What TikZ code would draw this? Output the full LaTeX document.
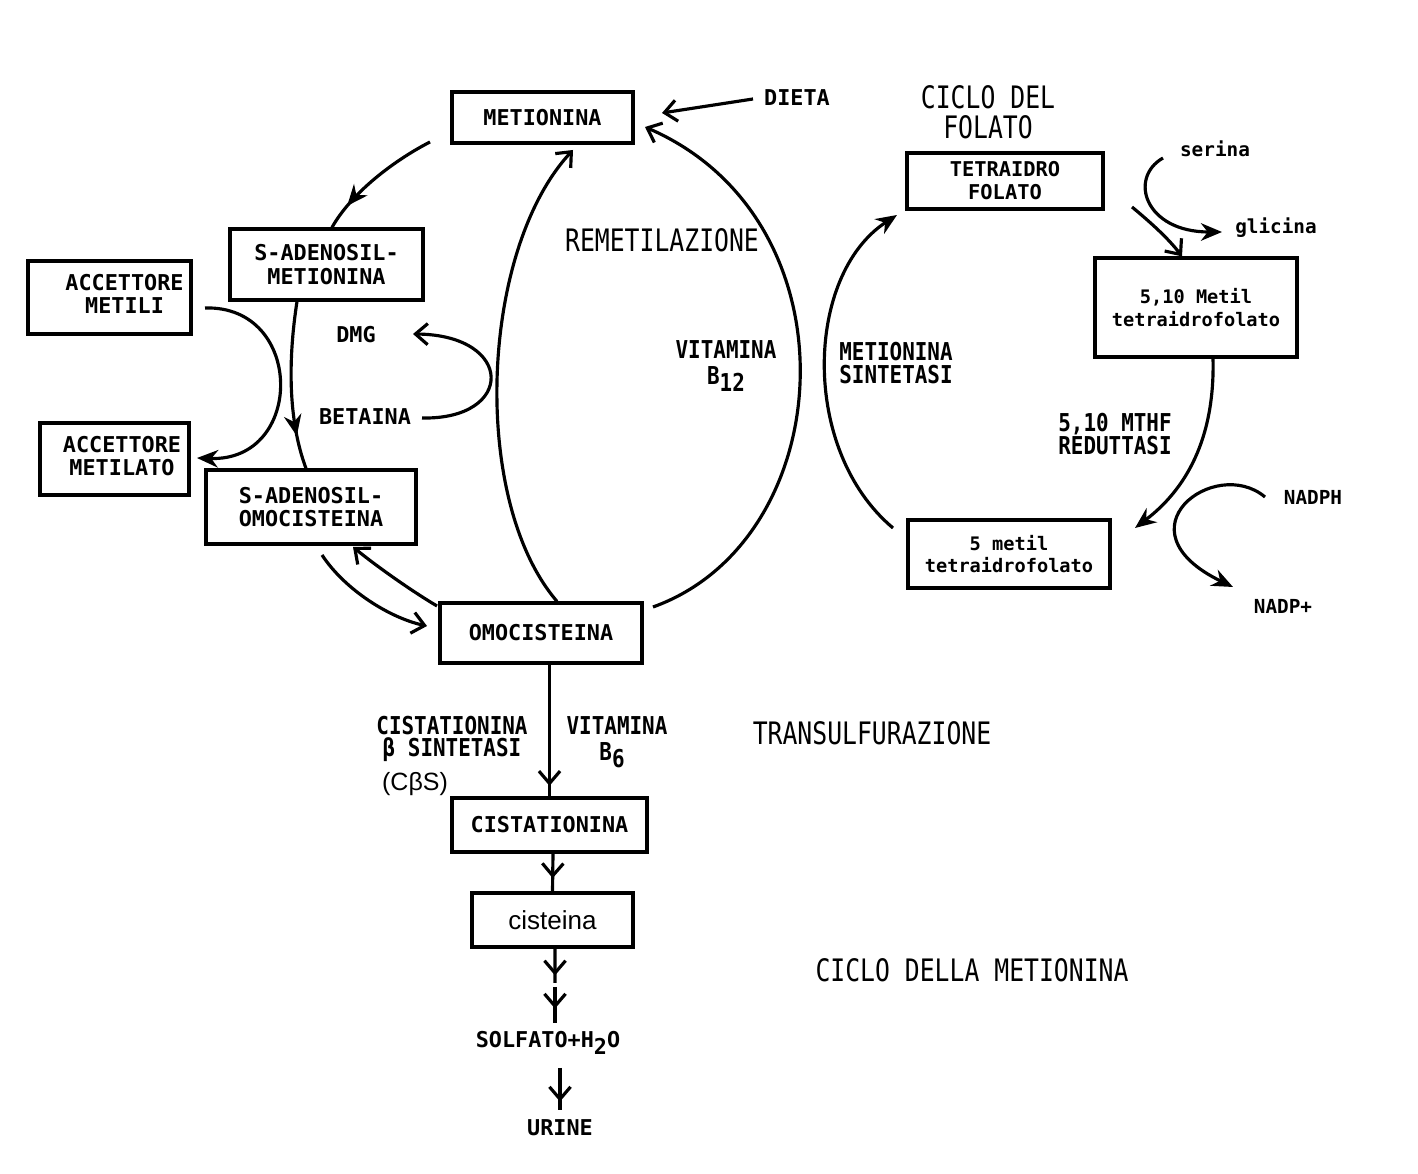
\documentclass[tikz,border=0pt]{standalone}
\usepackage{fontspec}
\setmainfont{Liberation Sans}
\newfontfamily\monof{DejaVu Sans Mono}
\newfontfamily\condf[FakeStretch=0.8]{DejaVu Sans Mono}
\newfontfamily\condm[FakeStretch=0.85]{DejaVu Sans Mono}
\usetikzlibrary{arrows.meta,decorations.markings}
\newcommand\lowr[1]{\raisebox{-2pt}{#1}}
\newcommand\twolines[2]{\begin{tabular}{@{}c@{}}#1\\#2\end{tabular}}
\tikzset{
  bx/.style={draw, line width=0.9pt, inner sep=0pt, align=center,
    font=\monof\bfseries\fontsize{6.2}{6.6}\selectfont},
  fbx/.style={draw, line width=0.9pt, inner sep=0pt, align=center,
    font=\monof\bfseries\fontsize{5.3}{6.5}\selectfont},
  lab/.style={inner sep=0pt, align=center, font=\monof\bfseries\fontsize{6.2}{6.6}\selectfont},
  slab/.style={inner sep=0pt, align=center, font=\monof\bfseries\fontsize{5.5}{6.5}\selectfont},
  med/.style={inner sep=0pt, align=center, font=\condm\bfseries\fontsize{7}{6.5}\selectfont},
  big/.style={inner sep=0pt, align=center, font=\condf\fontsize{8.8}{8.6}\selectfont},
  ln/.style={line width=0.9pt},
  eF/.style={ln, -{Stealth[length=6pt,width=5pt]}},
  eO/.style={ln, -{Straight Barb[length=3.5pt,width=6pt]}},
  mF/.style={ln, postaction={decorate}, decoration={markings,
    mark=at position #1 with {\arrow{Stealth[length=6pt,width=5pt]}}}},
  mO/.style={ln, postaction={decorate}, decoration={markings,
    mark=at position #1 with {\arrow{Straight Barb[length=3.5pt,width=6pt]}}}},
}
\begin{document}
\begin{tikzpicture}[x=0.01cm,y=-0.01cm]
\fill[white] (0,0) rectangle (1418,1174);
\useasboundingbox (0,0) rectangle (1418,1174);

% ---------- boxes ----------
\node[bx, minimum width=1.81cm, minimum height=0.51cm] (met) at (542.5,117.5) {METIONINA};
\node[bx, minimum width=1.93cm, minimum height=0.71cm] (sam) at (326.5,264.5) {S-ADENOSIL-\\METIONINA};
\node[bx, minimum width=1.63cm, minimum height=0.73cm] (accm) at (109.5,297.5) {\hspace*{0.3cm}\twolines{ACCETTORE}{METILI}};
\node[bx, minimum width=1.49cm, minimum height=0.72cm] (acclat) at (114.5,459) {\hspace*{0.15cm}\twolines{ACCETTORE}{METILATO}};
\node[bx, minimum width=2.10cm, minimum height=0.74cm] (sah) at (311,507) {S-ADENOSIL-\\OMOCISTEINA};
\node[bx, minimum width=2.02cm, minimum height=0.60cm] (omo) at (541,633) {OMOCISTEINA};
\node[bx, minimum width=1.95cm, minimum height=0.54cm] (cist) at (549.5,825) {CISTATIONINA};
\node[draw, line width=0.9pt, inner sep=0pt, minimum width=1.61cm, minimum height=0.54cm,
  font=\fontsize{7.4}{8}\selectfont] (cys) at (552.5,920) {cisteina};
\node[bx, minimum width=1.96cm, minimum height=0.56cm,
  font=\monof\bfseries\fontsize{5.8}{6.5}\selectfont] (thf) at (1005,181) {TETRAIDRO\\FOLATO};
\node[fbx, minimum width=2.02cm, minimum height=0.99cm] (mthf10) at (1196,307.5) {5,10 Metil\\tetraidrofolato};
\node[fbx, minimum width=2.02cm, minimum height=0.68cm] (mthf5) at (1009,554) {5 metil\\tetraidrofolato};

% ---------- labels ----------
\node[lab] (dieta) at (797,98) {DIETA};
\node[big] (ciclofol) at (988,112) {CICLO DEL\\FOLATO};
\node[big] (remet) at (662,240) {REMETILAZIONE};
\node[med] (vitb12) at (726,366) {VITAMINA\\[1pt]B\lowr{12}};
\node[med] (msint) at (896,363) {METIONINA\\SINTETASI};
\node[lab] (dmg) at (356,335) {DMG};
\node[lab] (bet) at (365,417) {BETAINA};
\node[med] (mthfr) at (1115,434) {5,10 MTHF\\REDUTTASI};
\node[slab] (serina) at (1215,149) {serina};
\node[slab] (glicina) at (1276,228) {glicina};
\node[slab] (nadph) at (1313,497) {NADPH};
\node[slab] (nadp) at (1283,606) {NADP+};
\node[med] (cbs) at (452,739) {CISTATIONINA\\β SINTETASI};
\node[inner sep=0pt, font=\fontsize{7.1}{8}\selectfont] (cbsab) at (415,784) {(CβS)};
\node[med] (vitb6) at (617,742) {VITAMINA\\[1pt]B\lowr{6}\hspace*{0.1cm}};
\node[big] (transulf) at (872,733) {TRANSULFURAZIONE};
\node[big] (ciclomet) at (972,970) {CICLO DELLA METIONINA};
\node[lab] (solf) at (548,1043) {SOLFATO+H\lowr{2}O};
\node[lab] (urine) at (560,1128) {URINE};

% ---------- free connector ends ----------
\coordinate (dietaS) at (753,99);
\coordinate (dietaE) at (662,113);
\coordinate (c1s) at (430,142);
\coordinate (accS) at (205,308);
\coordinate (accE) at (197,458);
\coordinate (betS) at (422,418);
\coordinate (dmgE) at (413,334);
\coordinate (lftE) at (573,150);
\coordinate (rgtS) at (653,607);
\coordinate (rgtE) at (645,127);
\coordinate (sahS) at (322,555);
\coordinate (sahE) at (427,626);
\coordinate (omoS) at (437,606);
\coordinate (omoE) at (353,547);
\coordinate (p1) at (555,983);
\coordinate (p2) at (555,987);
\coordinate (p3) at (555,1023);
\coordinate (p4) at (560,1068);
\coordinate (p5) at (560,1110);
\coordinate (flS) at (893,528);
\coordinate (flE) at (897,215);
\coordinate (frE) at (1135,528);
\coordinate (thfS) at (1132,207);
\coordinate (serS) at (1163,158);
\coordinate (gliE) at (1222,232);
\coordinate (nadS) at (1265,497);
\coordinate (nadE) at (1233,587);

% ---------- connectors ----------
\draw[eO] (dietaS) -- (dietaE);
\draw[mF=0.8] (c1s) .. controls (395,160) and (352,192) .. ([xshift=0.055cm]sam.north);
\draw[mF=0.8] ([xshift=-0.295cm]sam.south) .. controls (288,360) and (288,420) .. ([xshift=-0.05cm]sah.north);
\draw[eF] (accS) .. controls (305,305) and (305,462) .. (accE);
\draw[eO] (betS) .. controls (515,420) and (515,335) .. (dmgE);
\draw[eO] ([xshift=0.16cm]omo.north) .. controls (470,500) and (480,250) .. (lftE);
\draw[eO] (rgtS) .. controls (840,540) and (860,220) .. (rgtE);
\draw[eO] (sahS) .. controls (345,590) and (390,618) .. (sahE);
\draw[eO] (omoS) .. controls (410,590) and (375,565) .. (omoE);
\draw[mO=0.92] (omo.south -| cist.north) -- (cist.north);
\draw[mO=0.65] ([xshift=0.005cm]cist.south -| cys.north) -- (cys.north);
\draw[mO=0.78] ([xshift=0.025cm]cys.south) -- (p1);
\draw[mO=0.6] (p2) -- (p3);
\draw[mO=0.8] (p4) -- (p5);

\draw[eF] (flS) .. controls (800,450) and (805,275) .. (flE);
\draw[eF] ([xshift=0.17cm]mthf10.south) .. controls (1215,440) and (1185,490) .. (frE);
\draw[eO] (thfS) .. controls (1150,222) and (1168,238) .. ([xshift=-0.14cm]mthf10.north);
\draw[eF] (serS) .. controls (1128,178) and (1145,232) .. (gliE);
\draw[eF] (nadS) .. controls (1215,455) and (1115,530) .. (nadE);
\end{tikzpicture}
\end{document}
